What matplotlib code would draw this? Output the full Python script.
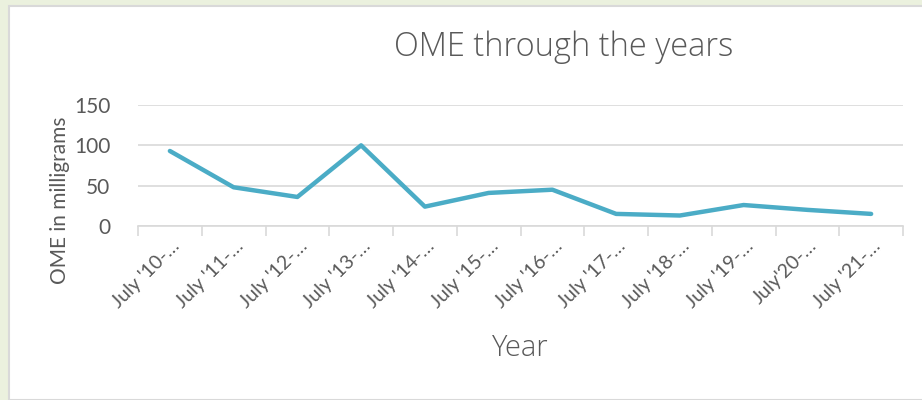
import matplotlib
matplotlib.use('Agg')
import matplotlib.pyplot as plt
import matplotlib.transforms as mtransforms
from matplotlib.patches import Rectangle

# --- Data ---
labels = ["July '10-\u2026", "July '11-\u2026", "July '12-\u2026", "July '13-\u2026",
          "July '14-\u2026", "July '15-\u2026", "July '16-\u2026", "July '17-\u2026",
          "July '18-\u2026", "July '19-\u2026", "July'20-\u2026", "July '21-\u2026"]
ome_mg = [93, 48, 36, 100, 24, 41, 45, 15, 13, 26, 20, 15]

LINE = '#4BACC6'
TEXT = '#595959'
GRID = '#D9D9D9'

plt.rcParams['font.family'] = ['Lato', 'DejaVu Sans']

fig = plt.figure(figsize=(9.22, 4.0), dpi=100)
fig.patch.set_facecolor('#EBF1DE')
# white chart area with thin grey border
fig.patches.append(Rectangle((9 / 922, 0), 1, 1 - 6 / 400, transform=fig.transFigure,
                             facecolor='white', edgecolor='#D9D9D9', linewidth=1.5,
                             zorder=-10))

ax = fig.add_axes([138 / 922, 1 - 226 / 400, 765 / 922, 121 / 400])
ax.set_facecolor('white')
ax.set_zorder(5)

x = list(range(len(ome_mg)))
ax.plot(x, ome_mg, color=LINE, linewidth=3.2, solid_capstyle='round',
        solid_joinstyle='round', zorder=3)

ax.set_xlim(-0.5, len(ome_mg) - 0.5)
ax.set_ylim(0, 150)
ax.set_yticks([0, 50, 100, 150])
ax.yaxis.grid(True, color=GRID, linewidth=1.2)
ax.set_axisbelow(True)

ax.set_xticks(x)
ax.set_xticklabels(labels, rotation=45, ha='right', rotation_mode='anchor',
                   fontsize=14, color=TEXT)
ax.tick_params(axis='x', length=0, pad=8)
shift = mtransforms.ScaledTranslation(1 / 100, 0, fig.dpi_scale_trans)
for lbl in ax.get_xticklabels():
    lbl.set_transform(lbl.get_transform() + shift)
ax.set_xticks([i - 0.5 for i in range(len(ome_mg) + 1)], minor=True)
ax.tick_params(axis='x', which='minor', length=7, color=GRID, width=1.2)
ax.tick_params(axis='y', length=0, labelsize=15, labelcolor=TEXT, pad=20)

for s in ['top', 'right', 'left']:
    ax.spines[s].set_visible(False)
ax.spines['bottom'].set_color(GRID)
ax.spines['bottom'].set_linewidth(1.2)

fig.text(60 / 922, 1 - 200 / 400, 'OME in milligrams', rotation=90, ha='center',
         va='center', fontsize=15, color=TEXT)
fig.text(564 / 922, 1 - 47 / 400, 'OME through the years', ha='center', va='center',
         fontsize=23.5, color=TEXT, family=['Open Sans', 'DejaVu Sans'],
         fontweight='light')
fig.text(520 / 922, 1 - 348 / 400, 'Year', ha='center', va='center',
         fontsize=21, color=TEXT, family=['Open Sans', 'DejaVu Sans'],
         fontweight='light')

fig.savefig('out.png', dpi=100, facecolor=fig.get_facecolor())
